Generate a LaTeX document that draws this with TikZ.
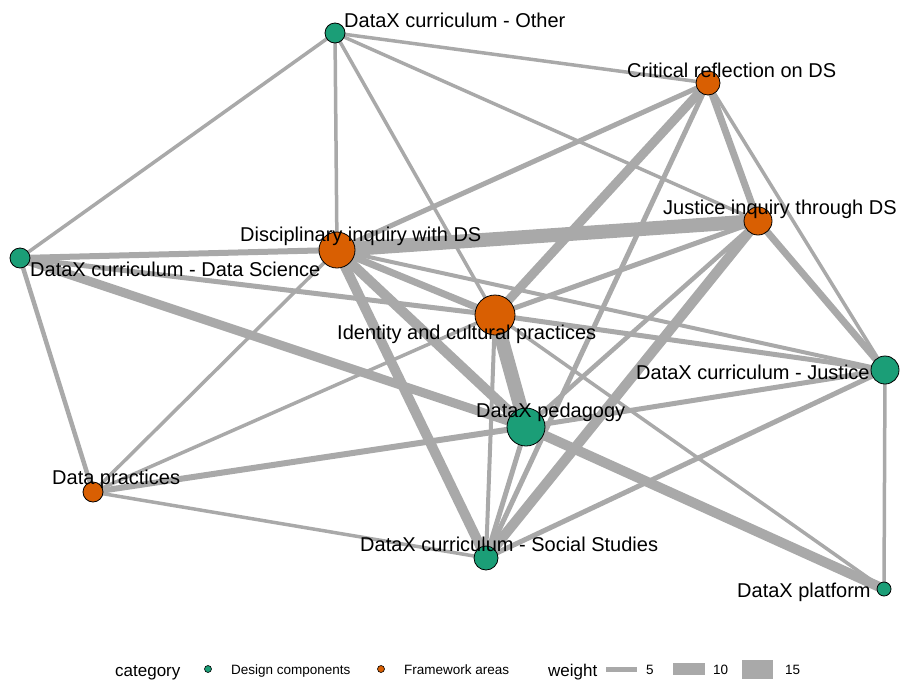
\documentclass[tikz,border=0pt]{standalone}
\usepackage{fontspec}
\setmainfont{Liberation Sans}
\usetikzlibrary{backgrounds}

\definecolor{edgegray}{HTML}{A9A9A9}
\definecolor{designgreen}{HTML}{1B9E77}
\definecolor{frameorange}{HTML}{D95F02}

\tikzset{
  design/.style={circle, draw=black, line width=0.8pt, fill=designgreen, inner sep=0pt, minimum size=#1},
  frame/.style={circle, draw=black, line width=0.8pt, fill=frameorange, inner sep=0pt, minimum size=#1},
  edge/.style={draw=edgegray, line width=#1},
  lbl/.style={anchor=base west, inner sep=0pt, font=\fontsize{20}{20}\selectfont},
  keytext/.style={anchor=base west, inner sep=0pt, font=\fontsize{13.5}{13.5}\selectfont}
}

\begin{document}
\begin{tikzpicture}[x=1pt, y=-1pt]
    \useasboundingbox (0,0) rectangle (904,683);

    % Nodes: design components
    \node[design=20pt] (other) at (335,33) {};
    \node[design=20pt] (datasci) at (20,258) {};
    \node[design=28pt] (justice) at (885,370) {};
    \node[design=38pt] (pedagogy) at (526,427) {};
    \node[design=24pt] (social) at (486,558) {};
    \node[design=14pt] (platform) at (884,589) {};

    % Nodes: framework areas
    \node[frame=24pt] (critical) at (708,83) {};
    \node[frame=28pt] (jinquiry) at (758,221) {};
    \node[frame=36pt] (disc) at (337,250) {};
    \node[frame=40pt] (identity) at (495,315) {};
    \node[frame=20pt] (practices) at (93,492) {};

    % Edges, weighted
    \begin{pgfonlayer}{background}
    \draw[edge=3.5pt] (other.center) -- (datasci.center);
    \draw[edge=3.5pt] (other.center) -- (disc.center);
    \draw[edge=3.5pt] (other.center) -- (critical.center);
    \draw[edge=3.5pt] (other.center) -- (jinquiry.center);
    \draw[edge=3.5pt] (other.center) -- (identity.center);
    \draw[edge=5pt] (critical.center) -- (disc.center);
    \draw[edge=9pt] (critical.center) -- (identity.center);
    \draw[edge=5pt] (critical.center) -- (social.center);
    \draw[edge=7pt] (critical.center) -- (jinquiry.center);
    \draw[edge=3.5pt] (critical.center) -- (justice.center);
    \draw[edge=14pt] (jinquiry.center) -- (disc.center);
    \draw[edge=7pt] (jinquiry.center) -- (justice.center);
    \draw[edge=5pt] (jinquiry.center) -- (identity.center);
    \draw[edge=10pt] (jinquiry.center) -- (social.center);
    \draw[edge=4.5pt] (jinquiry.center) -- (pedagogy.center);
    \draw[edge=6pt] (datasci.center) -- (disc.center);
    \draw[edge=5pt] (datasci.center) -- (identity.center);
    \draw[edge=9pt] (datasci.center) -- (pedagogy.center);
    \draw[edge=4.5pt] (datasci.center) -- (practices.center);
    \draw[edge=7pt] (disc.center) -- (identity.center);
    \draw[edge=4pt] (disc.center) -- (justice.center);
    \draw[edge=10pt] (disc.center) -- (pedagogy.center);
    \draw[edge=10pt] (disc.center) -- (social.center);
    \draw[edge=3.5pt] (disc.center) -- (practices.center);
    \draw[edge=14pt] (identity.center) -- (pedagogy.center);
    \draw[edge=5pt] (identity.center) -- (justice.center);
    \draw[edge=4pt] (identity.center) -- (social.center);
    \draw[edge=3.5pt] (identity.center) -- (practices.center);
    \draw[edge=3.5pt] (identity.center) -- (platform.center);
    \draw[edge=6pt] (pedagogy.center) -- (practices.center);
    \draw[edge=5pt] (pedagogy.center) -- (justice.center);
    \draw[edge=10pt] (pedagogy.center) -- (platform.center);
    \draw[edge=5pt] (pedagogy.center) -- (social.center);
    \draw[edge=3.5pt] (social.center) -- (practices.center);
    \draw[edge=5pt] (social.center) -- (justice.center);
    \draw[edge=3.5pt] (justice.center) -- (platform.center);
    \end{pgfonlayer}

    % Labels
    \node[lbl] (otherlbl) at (344,27) {DataX curriculum - Other};
    \node[lbl] (criticallbl) at (627,77) {Critical reflection on DS};
    \node[lbl] (jinquirylbl) at (663,214) {Justice inquiry through DS};
    \node[lbl] (disclbl) at (240,241) {Disciplinary inquiry with DS};
    \node[lbl] (datascilbl) at (30,276) {DataX curriculum - Data Science};
    \node[lbl] (identitylbl) at (337,339) {Identity and cultural practices};
    \node[lbl] (justicelbl) at (636,379) {DataX curriculum - Justice};
    \node[lbl] (pedagogylbl) at (476,417) {DataX pedagogy};
    \node[lbl] (practiceslbl) at (52,484) {Data practices};
    \node[lbl] (sociallbl) at (360,551) {DataX curriculum - Social Studies};
    \node[lbl] (platformlbl) at (737,597) {DataX platform};

    % Legend
    \node[anchor=base west, inner sep=0pt, font=\fontsize{17}{17}\selectfont] (cattitle) at (115,676) {category};
    \node[design=7pt, line width=0.6pt] (keygreen) at (208,669) {};
    \node[keytext] (keydesign) at (231,674) {Design components};
    \node[frame=7pt, line width=0.6pt] (keyorange) at (381,669) {};
    \node[keytext] (keyframe) at (404,674) {Framework areas};
    \node[anchor=base west, inner sep=0pt, font=\fontsize{17}{17}\selectfont] (wtitle) at (548,676) {weight};
    \fill[edgegray] (606,667) rectangle (637,672);
    \node[keytext] (wfive) at (646,674) {5};
    \fill[edgegray] (673,663) rectangle (705,675);
    \node[keytext] (wten) at (713,674) {10};
    \fill[edgegray] (742,660) rectangle (773,679);
    \node[keytext] (wfifteen) at (785,674) {15};
\end{tikzpicture}
\end{document}
